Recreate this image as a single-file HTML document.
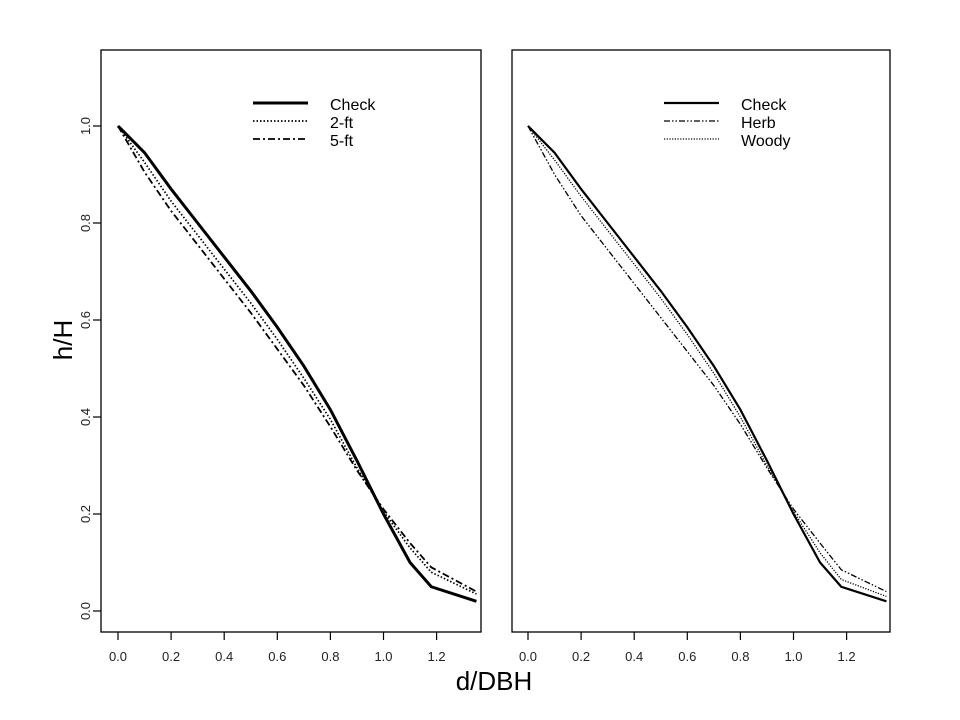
<!DOCTYPE html>
<html><head><meta charset="utf-8"><style>
body{margin:0;background:#fff;}
svg{display:block;font-family:"Liberation Sans",Arial,sans-serif;}
</style></head><body>
<svg id="chart" width="960" height="720" viewBox="0 0 960 720" xmlns="http://www.w3.org/2000/svg">
<text x="72" y="340" font-size="26" text-anchor="middle" transform="rotate(-90 72 340)">h/H</text>
<text x="494" y="690" font-size="26" text-anchor="middle">d/DBH</text>
</svg>
<script>
const xVals=[0,0.1,0.2,0.3,0.4,0.5,0.6,0.7,0.8,0.9,1.0,1.1,1.18,1.35];
const checkVals=[1.0,0.945,0.87,0.80,0.73,0.66,0.585,0.505,0.415,0.31,0.2,0.1,0.05,0.02];
const twoFtVals=[1.0,0.925,0.845,0.775,0.705,0.635,0.56,0.48,0.395,0.295,0.205,0.13,0.08,0.035];
const fiveFtVals=[1.0,0.905,0.825,0.755,0.685,0.615,0.54,0.465,0.38,0.29,0.21,0.14,0.09,0.04];
const herbVals=[1.0,0.9,0.815,0.745,0.675,0.605,0.535,0.465,0.385,0.295,0.21,0.14,0.085,0.04];
const woodyVals=[1.0,0.93,0.855,0.785,0.715,0.645,0.57,0.49,0.40,0.30,0.205,0.12,0.065,0.03];
const xTicks=[0,0.2,0.4,0.6,0.8,1.0,1.2];
const yTicks=[0,0.2,0.4,0.6,0.8,1.0];
const NS="http://www.w3.org/2000/svg";
const svg=document.getElementById('chart');
function el(t,a){const e=document.createElementNS(NS,t);for(const k in a)e.setAttribute(k,a[k]);return e;}
const yScale=v=>611-v*485;
function panel(x0,x1,off,series,legend,showY,name){
  const xs=v=>x0+off+v*265.5;
  const g=el('g',{});
  
  
  svg.appendChild(g);
  const box=el('rect',{x:x0,y:50,width:x1-x0,height:582,fill:'none',stroke:'#000','stroke-width':1.3});
  
  
  g.appendChild(box);
  xTicks.forEach(t=>{
    const x=xs(t);
    const l=el('line',{x1:x,x2:x,y1:632,y2:640,stroke:'#000','stroke-width':1.2});
    
    
    g.appendChild(l);
    const tx=el('text',{x:x,y:661,'font-size':13,'text-anchor':'middle',fill:'#222'});
    
    
    tx.textContent=t.toFixed(1);g.appendChild(tx);
  });
  if(showY){yTicks.forEach(t=>{
    const y=yScale(t);
    const l=el('line',{x1:x0-8,x2:x0,y1:y,y2:y,stroke:'#000','stroke-width':1.2});
    
    
    g.appendChild(l);
    const tx=el('text',{x:90,y:y,'font-size':13,'text-anchor':'middle',fill:'#222',transform:`rotate(-90 90 ${y})`});
    
    
    tx.textContent=t.toFixed(1);g.appendChild(tx);
  });}
  const cp=el('clipPath',{id:'c'+name});cp.appendChild(el('rect',{x:x0,y:50,width:x1-x0,height:582}));g.appendChild(cp);
  series.forEach(s=>{
    const p=el('polyline',{points:xVals.map((v,i)=>xs(v)+','+yScale(s.vals[i])).join(' '),fill:'none',stroke:'#000','stroke-width':s.w,'stroke-dasharray':s.dash,'clip-path':`url(#c${name})`});
    
    
    g.appendChild(p);
  });
  legend.forEach((s,i)=>{
    const y=106+i*18;
    const lx=x0+152;
    const l=el('line',{x1:lx,x2:lx+55,y1:y-3,y2:y-3,stroke:'#000','stroke-width':s.w,'stroke-dasharray':s.dash});
    
    
    g.appendChild(l);
    const t=el('text',{x:lx+77,y:y+4,'font-size':16});
    
    
    t.textContent=s.label;g.appendChild(t);
  });
}
const L=[{name:'check',label:'Check',vals:checkVals,w:3,dash:'none'},
 {name:'two-ft',label:'2-ft',vals:twoFtVals,w:1.7,dash:'1.5 2'},
 {name:'five-ft',label:'5-ft',vals:fiveFtVals,w:1.8,dash:'7 3 2 3'}];
const R=[{name:'check',label:'Check',vals:checkVals,w:2.2,dash:'none'},
 {name:'herb',label:'Herb',vals:herbVals,w:1.3,dash:'6 2 1.5 2 1.5 2'},
 {name:'woody',label:'Woody',vals:woodyVals,w:1.3,dash:'1.2 1.5'}];
panel(101,481,17,[L[2],L[1],L[0]],L,true,'left-panel');
panel(512,890,16,[R[1],R[2],R[0]],R,false,'right-panel');
</script>
</body></html>
